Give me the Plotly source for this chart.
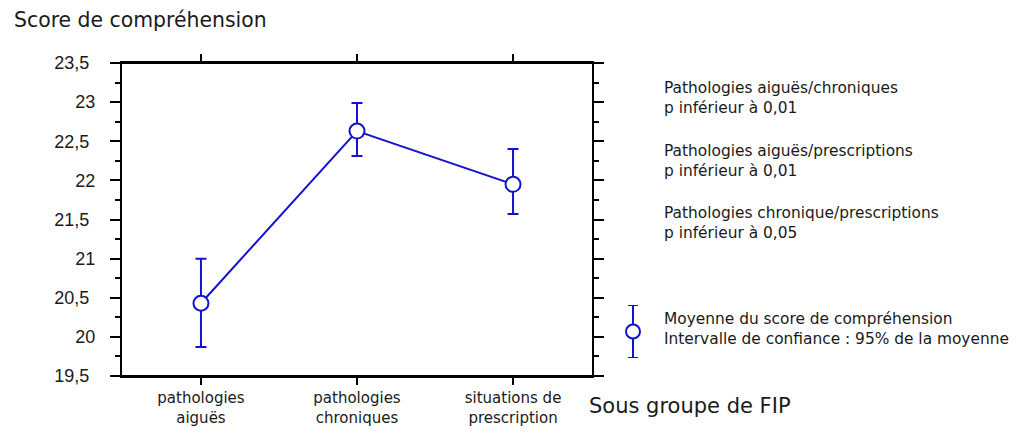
import plotly.graph_objects as go

categories = ["pathologies<br>aiguës", "pathologies<br>chroniques", "situations de<br>prescription"]
means = [20.43, 22.63, 21.95]
ci_upper = [21.00, 22.99, 22.40]
ci_lower = [19.87, 22.31, 21.57]

y_ticks = [19.5, 20, 20.5, 21, 21.5, 22, 22.5, 23, 23.5]

notes = [
    "Pathologies aiguës/chroniques<br>p inférieur à 0,01",
    "Pathologies aiguës/prescriptions<br>p inférieur à 0,01",
    "Pathologies chronique/prescriptions<br>p inférieur à 0,05",
]
legend_lines = "Moyenne du score de compréhension<br>Intervalle de confiance : 95% de la moyenne"

BLUE = "#1212d0"
TXT = "#1a1a1a"
FONT = "DejaVu Sans"

# page is offset by the default 8px body margin
OFF = 8
W, H = 1017 - OFF, 441 - OFF


def fx(px):
    return (px - OFF) / W


def fy(py):
    return 1 - (py - OFF) / H


L, R, T, B = 122, 592, 63, 376


def tick_label(v):
    if float(v).is_integer():
        return f"{int(v)}"
    return f"{v}".replace(".", ",") + "\u2004"


x_idx = list(range(len(categories)))
fig = go.Figure()
fig.add_trace(go.Scatter(
    x=x_idx, y=means, mode="lines+markers",
    line=dict(color=BLUE, width=2),
    marker=dict(symbol="circle", size=15, color="white", line=dict(color=BLUE, width=2)),
    error_y=dict(type="data", symmetric=False,
                 array=[u - m for u, m in zip(ci_upper, means)],
                 arrayminus=[m - l for m, l in zip(means, ci_lower)],
                 color=BLUE, thickness=2, width=5.5),
    showlegend=False, hoverinfo="skip",
))

# legend symbol drawn on its own small hidden axis
fig.add_trace(go.Scatter(
    x=[0], y=[0], mode="markers", xaxis="x2", yaxis="y2",
    marker=dict(symbol="circle", size=14, color="white", line=dict(color=BLUE, width=2)),
    error_y=dict(type="data", array=[1], color=BLUE, thickness=2, width=5),
    showlegend=False, hoverinfo="skip",
))

fig.update_layout(
    width=W, height=H,
    margin=dict(l=0, r=0, t=0, b=0, autoexpand=False),
    paper_bgcolor="white", plot_bgcolor="white",
    separators=", ",
    font=dict(family=FONT, color=TXT),
    xaxis=dict(
        domain=[fx(L), fx(R)], anchor="y", automargin=False,
        range=[-0.506, 2.506], tickvals=x_idx, ticktext=categories,
        showgrid=False, zeroline=False, showline=True, linecolor="black", linewidth=2,
        mirror="ticks", ticks="outside", ticklen=7, tickwidth=2, tickcolor="black",
        tickfont=dict(family=FONT, size=15, color=TXT),
    ),
    yaxis=dict(
        domain=[fy(B), fy(T)], anchor="x", automargin=False,
        range=[19.5, 23.5], tickvals=y_ticks, ticktext=[tick_label(v) for v in y_ticks],
        showgrid=False, zeroline=False, showline=True, linecolor="black", linewidth=2,
        mirror="ticks", ticks="outside", ticklen=10, tickwidth=2, tickcolor="black",
        ticklabelstandoff=11,
        tickfont=dict(family="Liberation Sans", size=18, color=TXT),
        minor=dict(dtick=0.25, ticks="outside", ticklen=5, tickwidth=2, tickcolor="black", showgrid=False),
    ),
    xaxis2=dict(domain=[fx(623), fx(643)], range=[-1, 1], visible=False, anchor="y2"),
    yaxis2=dict(domain=[fy(358), fy(305)], range=[-1, 1], visible=False, anchor="x2"),
)

# frame lines extend over the tick length as in the original
for py in (T, B):
    fig.add_shape(type="line", xref="paper", yref="paper",
                  x0=fx(L - 10), x1=fx(R + 9), y0=fy(py), y1=fy(py),
                  line=dict(color="black", width=2))

ann = []
ann.append(dict(text="Score de compréhension", x=fx(12), y=fy(20), xref="paper", yref="paper",
                xanchor="left", yanchor="middle", showarrow=False,
                font=dict(family=FONT, size=20.4, color=TXT)))
ann.append(dict(text="Sous groupe de FIP", x=fx(587), y=fy(406), xref="paper", yref="paper",
                xanchor="left", yanchor="middle", showarrow=False,
                font=dict(family=FONT, size=21, color=TXT)))
for i, n in enumerate(notes):
    ann.append(dict(text=n, x=fx(662), y=fy(97.5 + 63 * i), xref="paper", yref="paper",
                    xanchor="left", yanchor="middle", align="left", showarrow=False,
                    font=dict(family=FONT, size=15.4, color=TXT)))
ann.append(dict(text=legend_lines, x=fx(662), y=fy(329), xref="paper", yref="paper",
                xanchor="left", yanchor="middle", align="left", showarrow=False,
                font=dict(family=FONT, size=15.4, color=TXT)))
fig.update_layout(annotations=ann)

fig.write_html("out.html")
